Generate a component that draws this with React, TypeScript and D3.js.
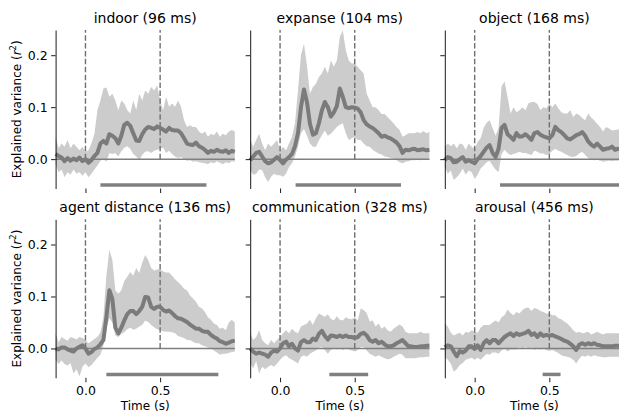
import {useEffect, useRef} from 'react'
import * as d3 from 'd3'

// time grid in seconds, 20 ms steps from -0.2 to 1.0
const times = d3.range(61).map((i) => -0.2 + i * 0.02)

const titles = ['indoor (96 ms)', 'expanse (104 ms)', 'object (168 ms)',
    'agent distance (136 ms)', 'communication (328 ms)', 'arousal (456 ms)']

const indoorMean = [0.010,0.006,0.003,-0.004,0.002,-0.003,0.001,-0.002,0.003,-0.004,
    0.000,-0.007,-0.002,0.006,0.012,0.030,0.035,0.030,0.048,0.045,
    0.040,0.030,0.045,0.066,0.070,0.064,0.050,0.036,0.035,0.048,
    0.057,0.062,0.060,0.058,0.063,0.060,0.057,0.053,0.060,0.056,
    0.055,0.055,0.050,0.040,0.030,0.028,0.027,0.032,0.025,0.022,
    0.018,0.012,0.016,0.014,0.018,0.015,0.014,0.017,0.012,0.016,0.014]
const indoorHi = [0.043,0.021,0.030,0.024,0.037,0.021,0.030,0.024,0.017,0.024,
    0.014,0.017,0.030,0.049,0.094,0.113,0.136,0.138,0.120,0.126,
    0.113,0.094,0.113,0.107,0.094,0.088,0.113,0.094,0.126,0.113,
    0.132,0.126,0.139,0.132,0.142,0.113,0.094,0.120,0.101,0.107,
    0.101,0.113,0.101,0.075,0.062,0.065,0.062,0.062,0.053,0.049,
    0.053,0.043,0.049,0.046,0.053,0.043,0.049,0.046,0.053,0.056,0.053]
const indoorLo = [-0.010,-0.025,-0.020,-0.035,-0.025,-0.030,-0.020,-0.028,-0.025,-0.032,
    -0.025,-0.035,-0.028,-0.020,-0.012,-0.003,0.000,-0.005,0.012,0.010,
    0.012,0.005,0.015,0.022,0.025,0.020,0.010,0.005,-0.002,0.008,
    0.014,0.015,0.012,0.016,0.018,0.020,0.022,0.012,0.016,0.010,
    0.005,0.002,0.004,0.000,-0.003,-0.002,-0.005,-0.004,-0.006,-0.007,
    -0.008,-0.010,-0.006,-0.008,-0.004,-0.007,-0.010,-0.006,-0.008,-0.004,-0.005]

const expanseMean = [-0.002,0.005,0.012,0.014,0.005,-0.004,-0.008,-0.006,-0.001,0.004,
    -0.002,-0.008,-0.001,0.004,0.010,0.025,0.050,0.100,0.134,0.110,
    0.068,0.047,0.050,0.069,0.094,0.110,0.100,0.082,0.090,0.102,
    0.136,0.120,0.100,0.098,0.100,0.099,0.097,0.090,0.075,0.067,
    0.063,0.060,0.055,0.050,0.043,0.045,0.042,0.040,0.036,0.032,
    0.025,0.012,0.018,0.017,0.019,0.020,0.017,0.018,0.019,0.017,0.018]
const expanseHi = [0.037,0.024,0.037,0.049,0.030,0.017,0.030,0.024,0.030,0.037,
    0.017,0.024,0.017,0.030,0.043,0.069,0.133,0.200,0.222,0.180,
    0.126,0.139,0.145,0.158,0.165,0.178,0.165,0.190,0.178,0.190,
    0.235,0.248,0.210,0.190,0.184,0.184,0.178,0.171,0.165,0.126,
    0.113,0.100,0.100,0.094,0.087,0.087,0.081,0.075,0.069,0.062,
    0.056,0.043,0.046,0.050,0.050,0.050,0.052,0.050,0.054,0.050,0.052]
const expanseLo = [-0.021,-0.030,-0.028,-0.020,-0.021,-0.035,-0.044,-0.034,-0.028,-0.031,
    -0.031,-0.034,-0.028,-0.015,-0.008,0.005,0.024,0.050,0.058,0.045,
    0.030,0.024,0.024,0.036,0.046,0.055,0.045,0.049,0.055,0.062,
    0.066,0.069,0.050,0.037,0.040,0.043,0.037,0.037,0.030,0.025,
    0.024,0.018,0.014,0.011,0.009,0.005,0.004,0.002,0.001,-0.002,
    -0.006,-0.008,-0.005,-0.004,-0.002,-0.002,-0.001,-0.002,-0.001,0.000,-0.001]

const objectMean = [-0.002,0.004,0.002,-0.006,-0.005,0.000,0.004,-0.005,-0.002,-0.005,
    -0.008,0.000,0.006,0.014,0.022,0.027,0.012,0.004,0.020,0.060,
    0.066,0.048,0.043,0.037,0.050,0.043,0.044,0.048,0.043,0.037,
    0.050,0.052,0.047,0.044,0.042,0.040,0.046,0.062,0.056,0.052,
    0.046,0.040,0.038,0.042,0.046,0.048,0.052,0.045,0.034,0.028,
    0.024,0.030,0.024,0.018,0.020,0.021,0.024,0.018,0.020,0.019,0.020]
const objectHi = [0.024,0.030,0.025,0.030,0.021,0.030,0.028,0.018,0.030,0.024,
    0.020,0.033,0.040,0.060,0.070,0.075,0.060,0.045,0.060,0.140,
    0.150,0.120,0.088,0.100,0.090,0.094,0.100,0.094,0.107,0.110,
    0.110,0.106,0.094,0.100,0.098,0.107,0.100,0.107,0.098,0.090,
    0.088,0.088,0.094,0.081,0.088,0.085,0.079,0.075,0.088,0.080,
    0.075,0.068,0.062,0.053,0.062,0.059,0.055,0.056,0.057,0.058,0.058]
const objectLo = [-0.015,-0.028,-0.022,-0.040,-0.035,-0.028,-0.018,-0.030,-0.022,-0.025,
    -0.038,-0.030,-0.018,-0.012,-0.006,-0.003,-0.012,-0.020,-0.025,0.010,
    0.018,0.012,0.008,0.010,0.012,0.014,0.012,0.012,0.010,0.008,
    0.016,0.014,0.011,0.011,0.008,0.010,0.016,0.020,0.016,0.014,
    0.011,0.008,0.005,0.004,0.006,0.011,0.014,0.008,0.002,-0.001,
    -0.002,-0.001,-0.003,-0.005,-0.004,-0.003,-0.004,-0.003,-0.003,-0.002,-0.002]

const agentMean = [0.000,-0.002,0.002,0.002,-0.002,-0.004,-0.006,0.000,0.003,0.006,
    0.000,-0.010,-0.007,-0.001,0.002,0.008,0.016,0.060,0.112,0.095,
    0.040,0.029,0.040,0.054,0.066,0.072,0.072,0.066,0.072,0.080,
    0.099,0.098,0.080,0.076,0.080,0.080,0.074,0.071,0.073,0.068,
    0.062,0.058,0.057,0.054,0.051,0.046,0.042,0.038,0.038,0.034,
    0.032,0.032,0.026,0.022,0.019,0.014,0.012,0.009,0.011,0.014,0.015]
const agentHi = [0.029,0.012,0.022,0.018,0.015,0.022,0.020,0.017,0.022,0.020,
    0.016,0.010,0.014,0.018,0.022,0.030,0.060,0.140,0.190,0.170,
    0.112,0.105,0.112,0.130,0.138,0.147,0.140,0.155,0.145,0.165,
    0.180,0.170,0.155,0.150,0.152,0.153,0.148,0.146,0.146,0.140,
    0.133,0.128,0.122,0.115,0.112,0.102,0.096,0.090,0.080,0.077,
    0.070,0.060,0.055,0.048,0.045,0.038,0.040,0.035,0.050,0.055,0.050]
const agentLo = [-0.022,-0.030,-0.023,-0.030,-0.033,-0.028,-0.048,-0.040,-0.054,-0.035,
    -0.029,-0.036,-0.032,-0.025,-0.018,-0.012,0.005,0.040,0.058,0.050,
    0.025,0.022,0.028,0.031,0.037,0.040,0.036,0.038,0.042,0.045,
    0.054,0.051,0.045,0.041,0.037,0.035,0.033,0.032,0.032,0.031,
    0.029,0.024,0.022,0.020,0.016,0.016,0.013,0.010,0.010,0.006,
    0.004,0.002,0.000,-0.004,-0.008,-0.012,-0.010,-0.010,-0.009,-0.007,-0.006]

const commMean = [0.000,-0.006,-0.010,-0.008,-0.010,-0.012,-0.016,-0.008,-0.004,-0.006,
    0.000,0.010,0.013,0.004,0.009,0.000,-0.004,0.012,0.016,0.012,
    0.012,0.019,0.016,0.028,0.034,0.024,0.017,0.025,0.024,0.022,
    0.025,0.022,0.025,0.022,0.022,0.020,0.022,0.028,0.030,0.025,
    0.016,0.013,0.016,0.010,0.013,0.008,0.004,0.004,0.006,0.010,
    0.013,0.016,0.010,0.004,0.004,0.003,0.003,0.004,0.004,0.005,0.005]
const commHi = [0.029,0.016,0.022,0.035,0.016,0.010,0.006,0.016,0.010,0.016,
    0.022,0.029,0.035,0.029,0.038,0.032,0.029,0.042,0.045,0.048,
    0.055,0.045,0.058,0.067,0.064,0.061,0.066,0.057,0.054,0.062,
    0.055,0.054,0.060,0.057,0.056,0.060,0.054,0.077,0.074,0.068,
    0.052,0.054,0.042,0.048,0.038,0.042,0.035,0.032,0.038,0.042,
    0.046,0.042,0.032,0.029,0.029,0.029,0.029,0.032,0.029,0.029,0.029]
const commLo = [-0.029,-0.038,-0.024,-0.048,-0.035,-0.040,-0.035,-0.032,-0.035,-0.029,
    -0.022,-0.016,-0.013,-0.019,-0.022,-0.025,-0.029,-0.016,-0.013,-0.016,
    -0.010,-0.007,-0.004,0.002,0.003,-0.003,-0.010,-0.003,0.000,-0.002,
    0.000,-0.003,0.000,-0.002,-0.004,-0.006,-0.003,0.003,0.003,-0.004,
    -0.010,-0.013,-0.016,-0.013,-0.016,-0.019,-0.021,-0.020,-0.016,-0.013,
    -0.010,-0.012,-0.019,-0.019,-0.019,-0.019,-0.018,-0.017,-0.017,-0.016,-0.016]

const arousalMean = [0.002,0.006,0.004,-0.006,-0.015,-0.005,-0.008,-0.004,0.004,0.004,
    -0.001,0.006,-0.003,0.010,0.016,0.010,0.016,0.016,0.010,0.016,
    0.022,0.026,0.029,0.024,0.029,0.026,0.028,0.030,0.034,0.026,
    0.029,0.022,0.029,0.024,0.026,0.024,0.026,0.023,0.021,0.018,
    0.015,0.013,0.009,0.004,-0.003,0.007,0.010,0.007,0.010,0.008,
    0.010,0.007,0.006,0.004,0.004,0.004,0.004,0.005,0.005,0.005,0.005]
const arousalHi = [0.048,0.042,0.030,0.025,0.028,0.030,0.025,0.032,0.030,0.035,
    0.032,0.030,0.040,0.045,0.045,0.045,0.050,0.054,0.050,0.060,
    0.064,0.075,0.068,0.064,0.070,0.067,0.074,0.078,0.079,0.072,
    0.078,0.076,0.072,0.070,0.067,0.067,0.064,0.064,0.058,0.056,
    0.052,0.048,0.042,0.035,0.030,0.032,0.029,0.030,0.032,0.027,
    0.029,0.032,0.029,0.027,0.029,0.029,0.029,0.029,0.029,0.029,0.029]
const arousalLo = [-0.016,-0.022,-0.029,-0.045,-0.040,-0.032,-0.028,-0.022,-0.020,-0.018,
    -0.022,-0.018,-0.022,-0.016,-0.010,-0.012,-0.008,-0.008,-0.010,-0.004,
    0.000,-0.006,-0.002,-0.002,-0.002,0.003,0.000,0.003,0.000,0.002,
    -0.003,0.000,-0.002,0.000,-0.003,-0.005,-0.003,-0.006,-0.009,-0.013,
    -0.015,-0.016,-0.018,-0.022,-0.029,-0.020,-0.014,-0.016,-0.013,-0.016,
    -0.013,-0.015,-0.016,-0.017,-0.017,-0.016,-0.016,-0.016,-0.016,-0.016,-0.016]

// significant time windows (s)
const sigStart = [0.10, 0.104, 0.17, 0.14, 0.33, 0.455]
const sigEnd = [0.81, 0.81, 1.0, 0.89, 0.59, 0.575]

const yTicks = [0, 0.1, 0.2]
const xTicks = [0, 0.5]
const markerTimes = [0, 0.5]

const FONT = 'DejaVu Sans, sans-serif'

function App(){
    const svg = useRef(null)

    useEffect(() => {
        const means = [indoorMean, expanseMean, objectMean, agentMean, commMean, arousalMean]
        const highs = [indoorHi, expanseHi, objectHi, agentHi, commHi, arousalHi]
        const lows = [indoorLo, expanseLo, objectLo, agentLo, commLo, arousalLo]

        const W = 179.2
        const H = 158.5
        const lefts = [55.6, 250.2, 444.8]
        const tops = [30, 219.3]

        const x = d3.scaleLinear().domain([-0.2, 1.0]).range([0, W])
        const y = d3.scaleLinear().domain([-0.0565, 0.2485]).range([H, 0])

        const root = d3.select(svg.current)
        root.selectAll('*').remove()

        means.forEach((mean, p) => {
            const row = Math.floor(p / 3)
            const col = p % 3
            const lo = lows[p]
            const hi = highs[p]
            const n = Math.min(mean.length, lo.length, hi.length, times.length)
            const idx = d3.range(n)

            const g = root.append('g')
                .attr('transform', `translate(${lefts[col]},${tops[row]})`)

            //confidence band
            const area = d3.area<number>()
                .x((i) => x(times[i]))
                .y0((i) => y(lo[i]))
                .y1((i) => y(hi[i]))
            g.append('path')
                .attr('d', area(idx))
                .attr('fill', '#cccccc')

            //zero line
            g.append('line')
                .attr('x1', 0).attr('x2', W)
                .attr('y1', y(0)).attr('y2', y(0))
                .attr('stroke', '#808080')
                .attr('stroke-width', 1.5)

            //stimulus on/offset markers
            markerTimes.forEach((t) => {
                g.append('line')
                    .attr('x1', x(t)).attr('x2', x(t))
                    .attr('y1', y(0)).attr('y2', y(0.2485))
                    .attr('stroke', '#707070')
                    .attr('stroke-width', 1.4)
                    .attr('stroke-dasharray', '5.5,2.4')
            })

            //mean line
            const line = d3.line<number>()
                .x((i) => x(times[i]))
                .y((i) => y(mean[i]))
            g.append('path')
                .attr('d', line(idx))
                .attr('fill', 'none')
                .attr('stroke', '#7b7b7b')
                .attr('stroke-width', 4)
                .attr('stroke-linejoin', 'round')

            //significance bar
            g.append('line')
                .attr('x1', x(sigStart[p])).attr('x2', x(sigEnd[p]))
                .attr('y1', y(-0.05)).attr('y2', y(-0.05))
                .attr('stroke', '#808080')
                .attr('stroke-width', 3.5)

            //y axis (the domain path is the left spine)
            const yAxis = d3.axisLeft(y)
                .tickValues(yTicks)
                .tickSize(4.5)
                .tickSizeOuter(0)
                .tickPadding(3.5)
                .tickFormat((d) => col === 0 ? d3.format('.1f')(d as number) : '')
            const ya = g.append('g').call(yAxis)
            ya.attr('font-family', FONT).attr('font-size', 12.5)
            ya.selectAll('path, line').attr('stroke', '#000').attr('stroke-width', 0.9)
            ya.selectAll('text').attr('fill', '#000')

            //x axis ticks only
            const xAxis = d3.axisBottom(x)
                .tickValues(xTicks)
                .tickSize(4.5)
                .tickPadding(3.5)
                .tickFormat((d) => row === 1 ? d3.format('.1f')(d as number) : '')
            const xa = g.append('g')
                .attr('transform', `translate(0,${H})`)
                .call(xAxis)
            xa.select('.domain').remove()
            xa.attr('font-family', FONT).attr('font-size', 12.5)
            xa.selectAll('line').attr('stroke', '#000').attr('stroke-width', 0.9)
            xa.selectAll('text').attr('fill', '#000')

            //title
            g.append('text')
                .attr('x', W / 2)
                .attr('y', -7.5)
                .attr('text-anchor', 'middle')
                .style('font', `14px ${FONT}`)
                .attr('fill', '#000')
                .text(titles[p])

            if(col === 0){
                const label = g.append('text')
                    .attr('transform', `translate(${20.5 - lefts[col]},${H / 2}) rotate(-90)`)
                    .attr('text-anchor', 'middle')
                    .style('font', `12px ${FONT}`)
                    .attr('fill', '#000')
                label.append('tspan').text('Explained variance (')
                label.append('tspan').attr('font-style', 'italic').text('r')
                label.append('tspan').attr('font-size', 8.5).attr('dy', -4.5).text('2')
                label.append('tspan').attr('dy', 4.5).text(')')
            }

            if(row === 1){
                g.append('text')
                    .attr('x', W / 2)
                    .attr('y', 410.5 - tops[row])
                    .attr('text-anchor', 'middle')
                    .style('font', `12px ${FONT}`)
                    .attr('fill', '#000')
                    .text('Time (s)')
            }
        })
    }, [])

    return(
        <svg ref={svg} width={619} height={414}
            style={{position: 'absolute', left: 0, top: 0, background: '#fff'}}></svg>
    )
}

export default App
